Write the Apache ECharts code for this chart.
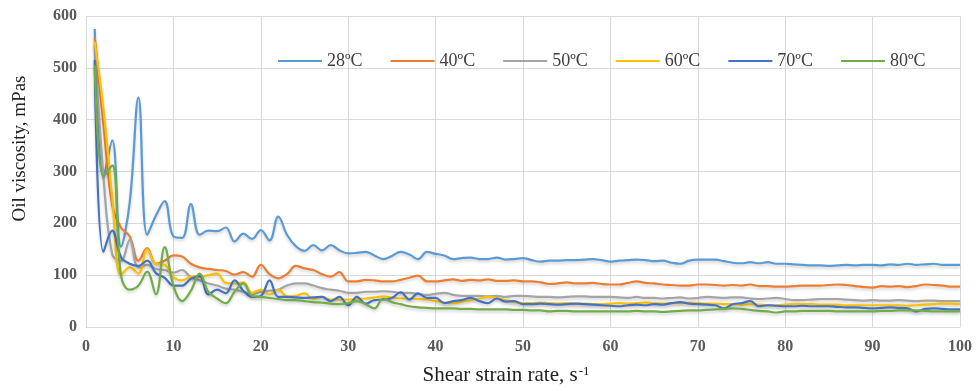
<!DOCTYPE html>
<html>
<head>
<meta charset="utf-8">
<script src="https://cdn.jsdelivr.net/npm/echarts@6/dist/echarts.min.js"></script>
<style>
  html, body { margin: 0; padding: 0; background: #fff; }
  #chart { width: 978px; height: 391px; }
</style>
</head>
<body>
<div id="chart"></div>
<script>
// Shear strain rate, s^-1
const shearRate = [
  1, 2, 3, 4, 5, 6, 7, 8, 9, 10,
  11, 12, 13, 14, 15, 16, 17, 18, 19, 20,
  21, 22, 23, 24, 25, 26, 27, 28, 29, 30,
  31, 32, 33, 34, 35, 36, 37, 38, 39, 40,
  41, 42, 43, 44, 45, 46, 47, 48, 49, 50,
  51, 52, 53, 54, 55, 56, 57, 58, 59, 60,
  61, 62, 63, 64, 65, 66, 67, 68, 69, 70,
  71, 72, 73, 74, 75, 76, 77, 78, 79, 80,
  81, 82, 83, 84, 85, 86, 87, 88, 89, 90,
  91, 92, 93, 94, 95, 96, 97, 98, 99, 100
];

// Oil viscosity, mPas, per temperature
const visc28 = [
  575, 290, 360, 155, 240, 443, 178, 215, 243, 175,
  172, 237, 178, 186, 185, 192, 165, 180, 170, 187,
  167, 213, 178, 156, 147, 158, 148, 158, 148, 142,
  143, 145, 138, 131, 137, 145, 140, 131, 145, 141,
  138, 131, 133, 134, 131, 131, 134, 130, 131, 133,
  129, 126, 128, 128, 129, 129, 130, 131, 129, 126,
  128, 129, 130, 129, 127, 128, 124, 122, 128, 130,
  130, 130, 127, 124, 123, 125, 123, 125, 122, 122,
  121, 120, 119, 119, 118, 119, 120, 119, 120, 120,
  119, 121, 120, 122, 120, 121, 122, 120, 120, 120
];
const visc40 = [
  558, 390, 235, 192, 175, 128, 152, 122, 128, 138,
  136, 122, 115, 112, 110, 108, 101, 106, 97, 120,
  102, 94, 102, 118, 113, 110, 102, 97, 106, 88,
  88, 91, 90, 88, 88, 91, 95, 99, 88, 88,
  90, 92, 89, 91, 90, 92, 89, 89, 90, 88,
  88, 86, 83, 84, 86, 84, 84, 85, 83, 82,
  82, 85, 88, 85, 84, 82, 81, 80, 80, 82,
  82, 81, 80, 81, 80, 82, 79, 79, 78, 78,
  79, 80, 80, 80, 81, 82, 81, 79, 77, 76,
  79, 78, 79, 77, 79, 82, 81, 80, 78, 78
];
const visc50 = [
  545, 290, 140, 128, 168, 115, 120, 112, 110, 105,
  110, 96, 90, 84, 80, 74, 72, 68, 63, 68,
  70, 72, 80, 84, 84, 80, 75, 72, 70, 66,
  66, 68, 68, 69, 68, 66, 66, 64, 62, 64,
  66, 62, 60, 60, 60, 59, 60, 58, 60, 60,
  59, 58, 58, 57, 58, 59, 59, 58, 58, 58,
  57, 56, 58, 56, 56, 55, 56, 57, 55, 56,
  58, 57, 56, 57, 57, 55, 54, 55, 56, 54,
  52, 52, 53, 54, 54, 54, 53, 52, 51, 52,
  51, 51, 52, 51, 50, 51, 51, 50, 50, 50
];
const visc60 = [
  550, 420, 250, 100, 115, 103, 150, 122, 120, 96,
  90, 97, 97, 100, 103, 85, 84, 86, 66, 72,
  63, 72, 59, 60, 65, 54, 58, 53, 53, 53,
  54, 55, 57, 59, 57, 55, 55, 54, 53, 50,
  47, 46, 49, 52, 55, 58, 56, 52, 48, 46,
  46, 47, 46, 45, 46, 45, 45, 44, 44, 45,
  46, 45, 46, 47, 46, 45, 46, 46, 47, 46,
  45, 45, 44, 44, 43, 44, 43, 42, 42, 43,
  44, 44, 44, 43, 43, 43, 42, 42, 42, 42,
  42, 42, 42, 41, 42, 43, 44, 45, 45, 44
];
const visc70 = [
  515, 145, 186, 135, 122, 118, 128, 104, 95, 80,
  80, 93, 98, 63, 72, 65, 90, 70, 58, 60,
  90, 58, 58, 57, 56, 57, 58, 50, 58, 42,
  58, 45, 52, 53, 56, 67, 53, 65, 56, 56,
  46, 50, 52, 56, 50, 46, 55, 49, 50, 44,
  44, 45, 44, 43, 44, 45, 44, 43, 42, 41,
  40, 42, 43, 42, 44, 43, 46, 48, 45, 44,
  43, 42, 36, 44, 46, 50, 40, 42, 41, 40,
  40, 41, 40, 40, 40, 39, 38, 38, 37, 36,
  37, 38, 37, 36, 30, 35, 36, 35, 34, 34
];
const visc80 = [
  505, 290, 312, 100, 72, 80, 107, 63, 154, 80,
  50, 70, 103, 68, 55, 46, 68, 84, 60, 58,
  56, 54, 52, 52, 50, 48, 47, 45, 44, 46,
  50, 44, 36, 55, 48, 44, 40, 38, 37, 36,
  36, 36, 35, 35, 34, 34, 34, 34, 33, 33,
  32, 32, 30, 31, 31, 30, 30, 30, 30, 30,
  30, 30, 31, 30, 30, 29, 30, 31, 32, 32,
  33, 34, 35, 36, 35, 33, 31, 30, 28, 30,
  30, 31, 31, 31, 31, 30, 30, 30, 30, 30,
  31, 31, 32, 32, 32, 31, 30, 30, 30, 30
];

const seriesNames = ['28ºC', '40ºC', '50ºC', '60ºC', '70ºC', '80ºC'];
const seriesValues = [visc28, visc40, visc50, visc60, visc70, visc80];
const seriesColors = ['#5B9BD5', '#ED7D31', '#A5A5A5', '#FFC000', '#4472C4', '#70AD47'];

const serif = '"Liberation Serif", "DejaVu Serif", serif';

const chart = echarts.init(document.getElementById('chart'), null, { renderer: 'canvas' });

chart.setOption({
  animation: false,
  backgroundColor: '#ffffff',
  color: seriesColors,
  grid: { left: 86, right: 18, top: 16, bottom: 60, containLabel: false },
  legend: {
    left: 273,
    top: 47,
    itemWidth: 44,
    itemHeight: 14,
    itemGap: 28,
    icon: 'path://M0,6 L44,6 L44,8 L0,8 Z',
    textStyle: { fontFamily: serif, fontSize: 18, color: '#404040' },
    data: seriesNames
  },
  xAxis: {
    type: 'value',
    min: 0,
    max: 100,
    interval: 10,
    name: 'Shear strain rate, s{sup|-1}',
    nameLocation: 'middle',
    nameGap: 38,
    nameTextStyle: {
      fontFamily: serif, fontSize: 21, color: '#222', padding: [0, 34, 0, 0],
      rich: { sup: { fontFamily: serif, fontSize: 13, color: '#222', verticalAlign: 'top', padding: [0, 0, 8, 1] } }
    },
    axisLine: { show: true, lineStyle: { color: '#d9d9d9', width: 1 } },
    axisTick: { show: false },
    axisLabel: { fontFamily: serif, fontSize: 16, fontWeight: 'bold', color: '#595959', margin: 12 },
    splitLine: { show: true, lineStyle: { color: '#d9d9d9', width: 1 } }
  },
  yAxis: {
    type: 'value',
    min: 0,
    max: 600,
    interval: 100,
    name: 'Oil viscosity, mPas',
    nameLocation: 'middle',
    nameGap: 56,
    nameTextStyle: { fontFamily: serif, fontSize: 19, color: '#222', padding: [0, 0, 0, 46] },
    axisLine: { show: true, lineStyle: { color: '#d9d9d9', width: 1 } },
    axisTick: { show: false },
    axisLabel: { fontFamily: serif, fontSize: 16, fontWeight: 'bold', color: '#595959', margin: 9 },
    splitLine: { show: true, lineStyle: { color: '#d9d9d9', width: 1 } }
  },
  series: seriesNames.map((name, i) => ({
    name: name,
    type: 'line',
    smooth: 0.4,
    showSymbol: false,
    symbol: 'none',
    data: shearRate.map((x, j) => [x, seriesValues[i][j]]),
    lineStyle: {
      width: 2.2,
      color: seriesColors[i],
      shadowColor: 'rgba(0,0,0,0.18)',
      shadowBlur: 3,
      shadowOffsetY: 2
    },
    itemStyle: { color: seriesColors[i] }
  }))
});
</script>
</body>
</html>
